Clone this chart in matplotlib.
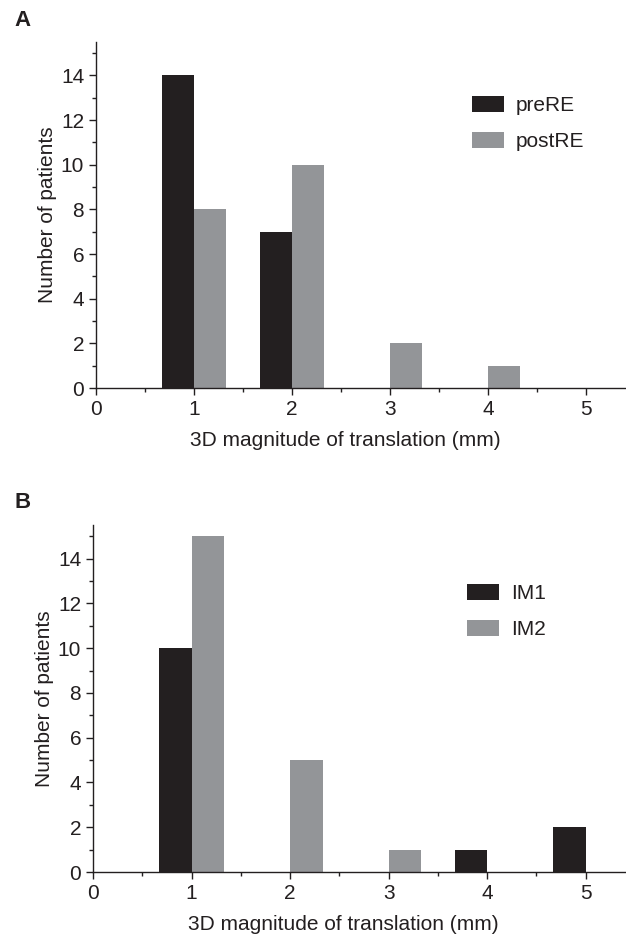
import numpy as np
import matplotlib.pyplot as plt
from matplotlib.ticker import MultipleLocator

plt.rcParams['font.family'] = ['Liberation Sans', 'DejaVu Sans']
plt.rcParams['font.size'] = 15

dark = '#231f20'
grey = '#939598'

bins = [1, 2, 3, 4, 5]
preRE = [14, 7, 0, 0, 0]
postRE = [8, 10, 2, 1, 0]
IM1 = [10, 0, 0, 1, 2]
IM2 = [15, 5, 1, 0, 0]

W, H = 626, 935
fig = plt.figure(figsize=(W / 100, H / 100), dpi=100)

def panel(rect, a, b, la, lb, letter, letter_y, leg_xy):
    ax = fig.add_axes(rect)
    x = np.array(bins)
    ax.bar(x - 0.33, a, width=0.33, align='edge', color=dark, label=la)
    ax.bar(x, b, width=0.33, align='edge', color=grey, label=lb)
    ax.set_xlim(0, 5.41)
    ax.set_ylim(0, 15.5)
    ax.spines['top'].set_visible(False)
    ax.spines['right'].set_visible(False)
    for s in ['left', 'bottom']:
        ax.spines[s].set_color(dark)
        ax.spines[s].set_linewidth(1.0)
    ax.xaxis.set_major_locator(MultipleLocator(1))
    ax.xaxis.set_minor_locator(MultipleLocator(0.5))
    ax.yaxis.set_major_locator(MultipleLocator(2))
    ax.yaxis.set_minor_locator(MultipleLocator(1))
    ax.tick_params(which='major', length=5, width=1.0, color=dark, labelcolor=dark, labelsize=15, pad=3.5)
    ax.tick_params(which='minor', length=3, width=1.0, color=dark)
    ax.set_xlabel('3D magnitude of translation (mm)', color=dark, fontsize=15)
    ax.xaxis.set_label_coords(0.47, -0.125)
    ax.set_ylabel('Number of patients', color=dark, fontsize=15, labelpad=3)
    fig.text(14 / W, 1 - letter_y / H, letter, fontsize=16, fontweight='bold', color=dark, va='center')
    ax.legend(loc='upper left', bbox_to_anchor=(leg_xy[0] / W, 1 - leg_xy[1] / H),
              bbox_transform=fig.transFigure, frameon=False, borderpad=0,
              handlelength=1.54, handleheight=0.77, handletextpad=0.58,
              labelspacing=0.83, fontsize=15, labelcolor=dark, borderaxespad=0)
    return ax

panel([96 / W, 1 - 388 / H, 530 / W, 346 / H], preRE, postRE, 'preRE', 'postRE', 'A', 21, (472, 96))
panel([93 / W, 1 - 872 / H, 533 / W, 347 / H], IM1, IM2, 'IM1', 'IM2', 'B', 502, (467, 584))

fig.savefig('out.png', dpi=100)
